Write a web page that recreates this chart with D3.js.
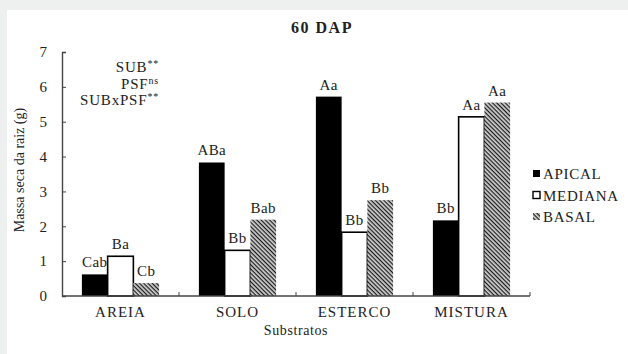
<!DOCTYPE html>
<html lang="pt">
<head>
<meta charset="utf-8">
<style>
html, body {
    margin: 0;
    padding: 0;
    background: #eef0f0;
}
svg {
    display: block;
    font-family: "Liberation Serif", "DejaVu Serif", serif;
}
</style>
</head>
<body>
<svg id="chart" width="628" height="354"></svg>

<script src="https://cdn.jsdelivr.net/npm/d3@7/dist/d3.min.js"></script>
<script>

var categories = ["AREIA", "SOLO", "ESTERCO", "MISTURA"];
var series = ["APICAL", "MEDIANA", "BASAL"];
var apical  = [0.62, 3.83, 5.72, 2.17];
var mediana = [1.14, 1.31, 1.83, 5.14];
var basal   = [0.37, 2.19, 2.75, 5.55];
var letters = [
    ["Cab", "Ba", "Cb"],
    ["ABa", "Bb", "Bab"],
    ["Aa", "Bb", "Bb"],
    ["Bb", "Aa", "Aa"]
];
var yTicks = [0, 1, 2, 3, 4, 5, 6, 7];

var values = [apical, mediana, basal];

var svg = d3.select("#chart");

// white panel
svg.append("rect")
    .attr("x", 7).attr("y", 10)
    .attr("width", 621).attr("height", 344)
    .attr("fill", "#fff");

// hatch pattern for BASAL
var defs = svg.append("defs");
var pat = defs.append("pattern")
    .attr("id", "hatch")
    .attr("patternUnits", "userSpaceOnUse")
    .attr("width", 3).attr("height", 3)
    .attr("patternTransform", "rotate(45)");
pat.append("rect").attr("width", 3).attr("height", 3).attr("fill", "#cfcfcf");
pat.append("line")
    .attr("x1", 0).attr("y1", 0).attr("x2", 3).attr("y2", 0)
    .attr("stroke", "#1a1a1a").attr("stroke-width", 2.4);

var mLeft = 62, mRight = 530, mTop = 52, mBottom = 296;

var x = d3.scaleBand()
    .domain(categories)
    .range([mLeft, mRight])
    .paddingInner(0.34)
    .paddingOuter(0.17);

var xs = d3.scaleBand()
    .domain(series)
    .range([0, x.bandwidth()])
    .padding(0);

var y = d3.scaleLinear()
    .domain([0, 7])
    .range([mBottom, mTop]);

var fills = { APICAL: "#000", MEDIANA: "#fff", BASAL: "url(#hatch)" };
var ink = "#222";

// bars
var groups = svg.selectAll(".grp")
    .data(categories)
    .enter()
    .append("g")
    .attr("class", "grp")
    .attr("transform", function (d) { return "translate(" + x(d) + ",0)"; });

groups.each(function (cat, ci) {
    var g = d3.select(this);
    var rows = series.map(function (s, si) {
        return { s: s, v: values[si][ci], lab: letters[ci][si] };
    });

    g.selectAll("rect")
        .data(rows)
        .enter()
        .append("rect")
        .attr("x", function (d) { return xs(d.s); })
        .attr("y", function (d) { return y(d.v); })
        .attr("width", xs.bandwidth())
        .attr("height", function (d) { return y(0) - y(d.v); })
        .attr("fill", function (d) { return fills[d.s]; })
        .attr("stroke", function (d) { return d.s == "MEDIANA" ? "#000" : "none"; })
        .attr("stroke-width", 1.6);

    g.selectAll("text")
        .data(rows)
        .enter()
        .append("text")
        .attr("x", function (d) { return xs(d.s) + xs.bandwidth() / 2; })
        .attr("y", function (d) { return y(d.v) - 7; })
        .attr("text-anchor", "middle")
        .attr("font-size", 15)
        .attr("letter-spacing", 0.4)
        .attr("fill", ink)
        .text(function (d) { return d.lab; });
});

// y axis
var yAxis = d3.axisLeft(y)
    .tickValues(yTicks)
    .tickSize(-4)
    .tickPadding(15)
    .tickFormat(d3.format("d"));

var gy = svg.append("g")
    .attr("transform", "translate(" + mLeft + ",0)")
    .call(yAxis);
gy.select(".domain").attr("stroke", "#444").attr("stroke-width", 1.4);
gy.selectAll(".tick line").attr("stroke", "#444");
gy.selectAll(".tick text")
    .attr("font-size", 15)
    .attr("font-family", "Liberation Serif, serif")
    .attr("fill", ink);

// x axis: ticks at category boundaries
var xAxisLine = svg.append("g");
xAxisLine.append("line")
    .attr("x1", mLeft).attr("x2", mRight)
    .attr("y1", y(0)).attr("y2", y(0))
    .attr("stroke", "#444").attr("stroke-width", 1.4);

var bounds = categories.map(function (c) { return x(c) - x.step() * x.paddingInner() / 2; });
bounds.push(mRight);
xAxisLine.selectAll(".btick")
    .data(bounds.slice(1))
    .enter()
    .append("line")
    .attr("x1", function (d) { return d; })
    .attr("x2", function (d) { return d; })
    .attr("y1", y(0)).attr("y2", y(0) - 4)
    .attr("stroke", "#444");

svg.selectAll(".xlab")
    .data(categories)
    .enter()
    .append("text")
    .attr("x", function (d) { return x(d) + x.bandwidth() / 2; })
    .attr("y", 317)
    .attr("text-anchor", "middle")
    .attr("font-size", 15)
    .attr("letter-spacing", 1)
    .attr("fill", ink)
    .text(function (d) { return d; });

// axis titles
svg.append("text")
    .attr("x", (mLeft + mRight) / 2)
    .attr("y", 335)
    .attr("text-anchor", "middle")
    .attr("font-size", 14)
    .attr("letter-spacing", 0.6)
    .attr("fill", ink)
    .text("Substratos");

svg.append("text")
    .attr("transform", "translate(24,170) rotate(-90)")
    .attr("text-anchor", "middle")
    .attr("font-size", 14)
    .attr("fill", ink)
    .text("Massa seca da raiz (g)");

// title
svg.append("text")
    .attr("x", 322)
    .attr("y", 33)
    .attr("text-anchor", "middle")
    .attr("font-size", 16)
    .attr("font-weight", "bold")
    .attr("letter-spacing", 1.5)
    .attr("fill", ink)
    .text("60 DAP");

// significance annotation
var notes = [["SUB", "**"], ["PSF", "ns"], ["SUBxPSF", "**"]];
svg.selectAll(".note")
    .data(notes)
    .enter()
    .append("text")
    .attr("x", 159)
    .attr("y", function (d, i) { return 72 + i * 16.5; })
    .attr("text-anchor", "end")
    .attr("font-size", 15)
    .attr("letter-spacing", 0.8)
    .attr("fill", ink)
    .each(function (d) {
        var t = d3.select(this);
        t.append("tspan").text(d[0]);
        t.append("tspan")
            .attr("font-size", 10)
            .attr("dy", -5)
            .text(d[1]);
    });

// legend
var legend = svg.selectAll(".leg")
    .data(series)
    .enter()
    .append("g")
    .attr("transform", function (d, i) { return "translate(533," + (174 + i * 21.5) + ")"; });

legend.append("rect")
    .attr("x", 0).attr("y", -4)
    .attr("width", 7).attr("height", 7)
    .attr("fill", function (d) { return fills[d]; })
    .attr("stroke", function (d) { return d == "MEDIANA" ? "#000" : "none"; })
    .attr("stroke-width", 1.4);

legend.append("text")
    .attr("x", 10)
    .attr("y", 5)
    .attr("font-size", 15)
    .attr("letter-spacing", 0.7)
    .attr("fill", ink)
    .text(function (d) { return d; });

</script>
</body>
</html>
